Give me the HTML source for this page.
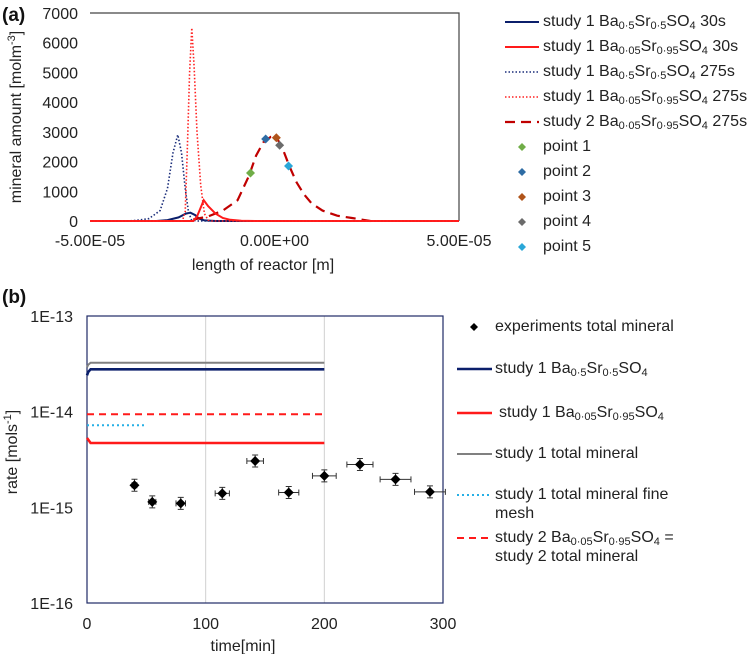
<!DOCTYPE html>
<html><head><meta charset="utf-8"><style>
body{margin:0;background:#fff;font-family:"Liberation Sans",Arial,sans-serif;}
#wrap{position:relative;width:750px;height:654px;overflow:hidden;}
svg{position:absolute;left:0;top:0;}
.lg{position:absolute;font-size:16px;color:#222;white-space:nowrap;line-height:19px;}
sub{font-size:11px;vertical-align:-3px;line-height:0;}
</style></head><body>
<div id="wrap">
<svg id="svg" width="750" height="654"></svg>

<div class="lg" style="left:543px;top:12px">study 1 Ba<sub>0·5</sub>Sr<sub>0·5</sub>SO<sub>4</sub> 30s</div>
<div class="lg" style="left:543px;top:37px">study 1 Ba<sub>0·05</sub>Sr<sub>0·95</sub>SO<sub>4</sub> 30s</div>
<div class="lg" style="left:543px;top:62px">study 1 Ba<sub>0·5</sub>Sr<sub>0·5</sub>SO<sub>4</sub> 275s</div>
<div class="lg" style="left:543px;top:87px">study 1 Ba<sub>0·05</sub>Sr<sub>0·95</sub>SO<sub>4</sub> 275s</div>
<div class="lg" style="left:543px;top:112px">study 2 Ba<sub>0·05</sub>Sr<sub>0·95</sub>SO<sub>4</sub> 275s</div>
<div class="lg" style="left:543px;top:137px">point 1</div>
<div class="lg" style="left:543px;top:162px">point 2</div>
<div class="lg" style="left:543px;top:187px">point 3</div>
<div class="lg" style="left:543px;top:212px">point 4</div>
<div class="lg" style="left:543px;top:237px">point 5</div>

<div class="lg" style="left:495px;top:317px">experiments total mineral</div>
<div class="lg" style="left:495px;top:359px">study 1 Ba<sub>0·5</sub>Sr<sub>0·5</sub>SO<sub>4</sub></div>
<div class="lg" style="left:499px;top:403px">study 1 Ba<sub>0·05</sub>Sr<sub>0·95</sub>SO<sub>4</sub></div>
<div class="lg" style="left:495px;top:444px">study 1 total mineral</div>
<div class="lg" style="left:495px;top:485px">study 1 total mineral fine<br>mesh</div>
<div class="lg" style="left:495px;top:528px">study 2 Ba<sub>0·05</sub>Sr<sub>0·95</sub>SO<sub>4</sub> =<br>study 2 total mineral</div>
</div>
<script>
// ---- chart (a) data (x in 1e-5 m, y in mol m^-3)
const aXTicks = [-5, 0, 5];
const aXTickLabels = ["-5.00E-05", "0.00E+00", "5.00E-05"];
const aYTicks = [0, 1000, 2000, 3000, 4000, 5000, 6000, 7000];
const navyDotX = [-4, -3.75, -3.4, -3.1, -2.9, -2.75, -2.62, -2.52, -2.42, -2.33, -2.25, -2.1, 5];
const navyDotY = [0, 20, 80, 350, 1100, 2300, 2900, 2300, 1100, 300, 40, 0, 0];
const redDotX = [-5, -2.5, -2.42, -2.36, -2.3, -2.24, -2.18, -2.1, -2.0, -1.9, -1.8, -1.7, 5];
const redDotY = [0, 0, 300, 2500, 5000, 6500, 5200, 3000, 1200, 250, 30, 0, 0];
const navySolidX = [-5, -3.2, -2.9, -2.6, -2.4, -2.28, -2.15, -2.05, -1.9, -1.6, 5];
const navySolidY = [0, 0, 30, 120, 250, 280, 200, 80, 20, 0, 0];
const redSolidX = [-5, -2.2, -2.1, -2.0, -1.92, -1.8, -1.6, -1.4, -1.2, -0.9, -0.5, 5];
const redSolidY = [0, 0, 150, 450, 700, 500, 250, 100, 40, 10, 0, 0];
const redDashX = [-2.2, -1.8, -1.4, -1.0, -0.7, -0.5, -0.3, -0.1, 0.05, 0.2, 0.4, 0.6, 0.8, 1.0, 1.3, 1.7, 2.1, 2.4, 2.6];
const redDashY = [50, 150, 350, 700, 1500, 2200, 2650, 2830, 2820, 2500, 1850, 1300, 900, 600, 350, 180, 100, 40, 0];
const pointX = [-0.65, -0.24, 0.05, 0.14, 0.38];
const pointY = [1615, 2760, 2800, 2550, 1850];
const pointColors = ["#70ad47", "#2e6ca4", "#b0541a", "#6b6b6b", "#2aa7d8"];

// ---- chart (b) data
const bXTicks = [0, 100, 200, 300];
const bYTickExp = [-13, -14, -15, -16];
const expT = [40, 55, 79, 114, 141.7, 170, 200, 230, 260, 289];
const expRate = [1.7e-15, 1.14e-15, 1.1e-15, 1.4e-15, 3.05e-15, 1.43e-15, 2.13e-15, 2.8e-15, 1.96e-15, 1.45e-15];
const expTErr = [2, 3, 4, 6, 7, 8.5, 10, 11, 13, 13];
const grayT = [0, 1, 3, 200];   const grayR = [2.9e-14, 3.1e-14, 3.25e-14, 3.25e-14];
const navyT = [0, 1, 3, 200];   const navyR = [2.4e-14, 2.6e-14, 2.77e-14, 2.77e-14];
const redT = [0, 1, 3, 200];    const redR = [5.3e-15, 5.1e-15, 4.7e-15, 4.7e-15];
const dashT = [0, 200];         const dashR = [9.4e-15, 9.4e-15];
const cyanT = [0, 50];          const cyanR = [7.2e-15, 7.2e-15];

const S = document.getElementById('svg');
const NS = 'http://www.w3.org/2000/svg';
function mk(tag, attrs, name, txt) {
  const e = document.createElementNS(NS, tag);
  for (const k in attrs) e.setAttribute(k, attrs[k]);
  
  
  if (txt !== undefined) e.textContent = txt;
  S.appendChild(e);
  return e;
}
const aL = 90, aR = 459, aT = 13, aB = 221;
const ax = v => aL + (v + 5) / 10 * (aR - aL);
const ay = v => aB - v / 7000 * (aB - aT);
const bL = 87, bR = 443, bT = 316, bB = 603;
const bx = v => bL + v / 300 * (bR - bL);
const by = v => bT + (-13 - Math.log10(v)) / 3 * (bB - bT);

// ---- draw (a)
mk('text', {x: 2, y: 21, 'font-size': 19, 'font-weight': 'bold', fill: '#111'}, 'panel-a-label', '(a)');
mk('polyline', {points: `${aL},${aT} ${aR},${aT} ${aR},${aB}`, fill: 'none', stroke: '#444', 'stroke-width': 1.2}, 'plot-a-frame');
aYTicks.forEach(v => {
  mk('text', {x: 78, y: ay(v) + 6, 'font-size': 16, 'text-anchor': 'end', fill: '#222'}, 'y-tick-label-a', String(v));
});
aXTicks.forEach((v, i) => {
  mk('text', {x: ax(v), y: 246, 'font-size': 16, 'text-anchor': 'middle', fill: '#222'}, 'x-tick-label-a', aXTickLabels[i]);
});
mk('text', {x: 263, y: 270, 'font-size': 16, 'text-anchor': 'middle', fill: '#222'}, 'x-axis-title-a', 'length of reactor [m]');
const yt = mk('text', {x: 0, y: 0, 'font-size': 16, 'text-anchor': 'middle', fill: '#222', transform: 'translate(21,117) rotate(-90)'}, 'y-axis-title-a');
yt.innerHTML = 'mineral amount [molm<tspan dy="-6" font-size="11">-3</tspan><tspan dy="6">]</tspan>';
function lineA(X, Y, style, name) {
  mk('polyline', Object.assign({points: X.map((x, i) => ax(x).toFixed(1) + ',' + ay(Y[i]).toFixed(1)).join(' '), fill: 'none'}, style), name);
}
lineA(navySolidX, navySolidY, {stroke: '#0b1f6b', 'stroke-width': 2}, 'series-study1-ba05-30s');
lineA(navyDotX, navyDotY, {stroke: '#1a2d7a', 'stroke-width': 1.6, 'stroke-dasharray': '1.5 2'}, 'series-study1-ba05-275s');
lineA(redDashX, redDashY, {stroke: '#c00000', 'stroke-width': 2.2, 'stroke-dasharray': '10 6'}, 'series-study2-ba005-275s');
lineA(redSolidX, redSolidY, {stroke: '#ff1a1a', 'stroke-width': 2}, 'series-study1-ba005-30s');
lineA(redDotX, redDotY, {stroke: '#ff2020', 'stroke-width': 1.6, 'stroke-dasharray': '1.5 2'}, 'series-study1-ba005-275s');
pointX.forEach((x, i) => {
  const cx = ax(x), cy = ay(pointY[i]);
  mk('polygon', {points: `${cx},${cy - 4.5} ${cx + 4.5},${cy} ${cx},${cy + 4.5} ${cx - 4.5},${cy}`, fill: pointColors[i]}, 'point-' + (i + 1));
});
const lgY = [22, 47, 72, 97, 122];
const lgSt = [
  {stroke: '#0b1f6b', 'stroke-width': 2},
  {stroke: '#ff1a1a', 'stroke-width': 2},
  {stroke: '#1a2d7a', 'stroke-width': 1.6, 'stroke-dasharray': '1.5 2'},
  {stroke: '#ff2020', 'stroke-width': 1.6, 'stroke-dasharray': '1.5 2'},
  {stroke: '#c00000', 'stroke-width': 2.2, 'stroke-dasharray': '10 6'}];
lgY.forEach((y, i) => mk('line', Object.assign({x1: 505, x2: 539, y1: y, y2: y}, lgSt[i]), 'legend-swatch-a'));
pointColors.forEach((c, i) => {
  const cx = 522, cy = 147 + i * 25;
  mk('polygon', {points: `${cx},${cy - 4} ${cx + 4},${cy} ${cx},${cy + 4} ${cx - 4},${cy}`, fill: c}, 'legend-marker-point');
});

// ---- draw (b)
mk('text', {x: 2, y: 303, 'font-size': 19, 'font-weight': 'bold', fill: '#111'}, 'panel-b-label', '(b)');
[100, 200].forEach(v => mk('line', {x1: bx(v), x2: bx(v), y1: bT, y2: bB, stroke: '#d0d0d0', 'stroke-width': 1}, 'grid-line-b'));
mk('rect', {x: bL, y: bT, width: bR - bL, height: bB - bT, fill: 'none', stroke: '#1f2a66', 'stroke-width': 1.2}, 'plot-b-frame');
bYTickExp.forEach(e => mk('text', {x: 73, y: by(Math.pow(10, e)) + 6, 'font-size': 16, 'text-anchor': 'end', fill: '#222'}, 'y-tick-label-b', '1E' + e));
bXTicks.forEach(v => mk('text', {x: bx(v), y: 629, 'font-size': 16, 'text-anchor': 'middle', fill: '#222'}, 'x-tick-label-b', String(v)));
mk('text', {x: 243, y: 651, 'font-size': 16, 'text-anchor': 'middle', fill: '#222'}, 'x-axis-title-b', 'time[min]');
const yt2 = mk('text', {x: 0, y: 0, 'font-size': 16, 'text-anchor': 'middle', fill: '#222', transform: 'translate(17,452) rotate(-90)'}, 'y-axis-title-b');
yt2.innerHTML = 'rate [mols<tspan dy="-6" font-size="11">-1</tspan><tspan dy="6">]</tspan>';
function lineB(X, Y, style, name) {
  mk('polyline', Object.assign({points: X.map((x, i) => bx(x).toFixed(1) + ',' + by(Y[i]).toFixed(1)).join(' '), fill: 'none'}, style), name);
}
lineB(grayT, grayR, {stroke: '#808080', 'stroke-width': 2}, 'series-b-study1-total');
lineB(navyT, navyR, {stroke: '#0b1f6b', 'stroke-width': 2.6}, 'series-b-study1-ba05');
lineB(dashT, dashR, {stroke: '#ff1a1a', 'stroke-width': 2, 'stroke-dasharray': '7 5'}, 'series-b-study2');
lineB(cyanT, cyanR, {stroke: '#27b0e6', 'stroke-width': 2, 'stroke-dasharray': '2 3'}, 'series-b-fine-mesh');
lineB(redT, redR, {stroke: '#ff1a1a', 'stroke-width': 2.6}, 'series-b-study1-ba005');
expT.forEach((t, i) => {
  const cx = bx(t), cy = by(expRate[i]);
  const x1 = bx(t - expTErr[i]), x2 = bx(t + expTErr[i]);
  mk('path', {d: `M${x1},${cy}H${x2}M${x1},${cy - 3}V${cy + 3}M${x2},${cy - 3}V${cy + 3}M${cx},${cy - 6}V${cy + 6}M${cx - 3},${cy - 6}H${cx + 3}M${cx - 3},${cy + 6}H${cx + 3}`, stroke: '#333', 'stroke-width': 1, fill: 'none'}, 'error-bar-experiment');
  mk('polygon', {points: `${cx},${cy - 5} ${cx + 5},${cy} ${cx},${cy + 5} ${cx - 5},${cy}`, fill: '#000'}, 'experiment-point');
});
mk('polygon', {points: '474,323 478,327 474,331 470,327', fill: '#000'}, 'legend-marker-experiments');
mk('line', {x1: 457, x2: 492, y1: 369, y2: 369, stroke: '#0b1f6b', 'stroke-width': 2.6}, 'legend-swatch-b');
mk('line', {x1: 457, x2: 492, y1: 413, y2: 413, stroke: '#ff1a1a', 'stroke-width': 2.6}, 'legend-swatch-b');
mk('line', {x1: 457, x2: 492, y1: 454, y2: 454, stroke: '#808080', 'stroke-width': 2}, 'legend-swatch-b');
mk('line', {x1: 457, x2: 492, y1: 495, y2: 495, stroke: '#27b0e6', 'stroke-width': 2, 'stroke-dasharray': '2 3'}, 'legend-swatch-b');
mk('line', {x1: 457, x2: 492, y1: 538, y2: 538, stroke: '#ff1a1a', 'stroke-width': 2, 'stroke-dasharray': '7 5'}, 'legend-swatch-b');
</script>
</body></html>
